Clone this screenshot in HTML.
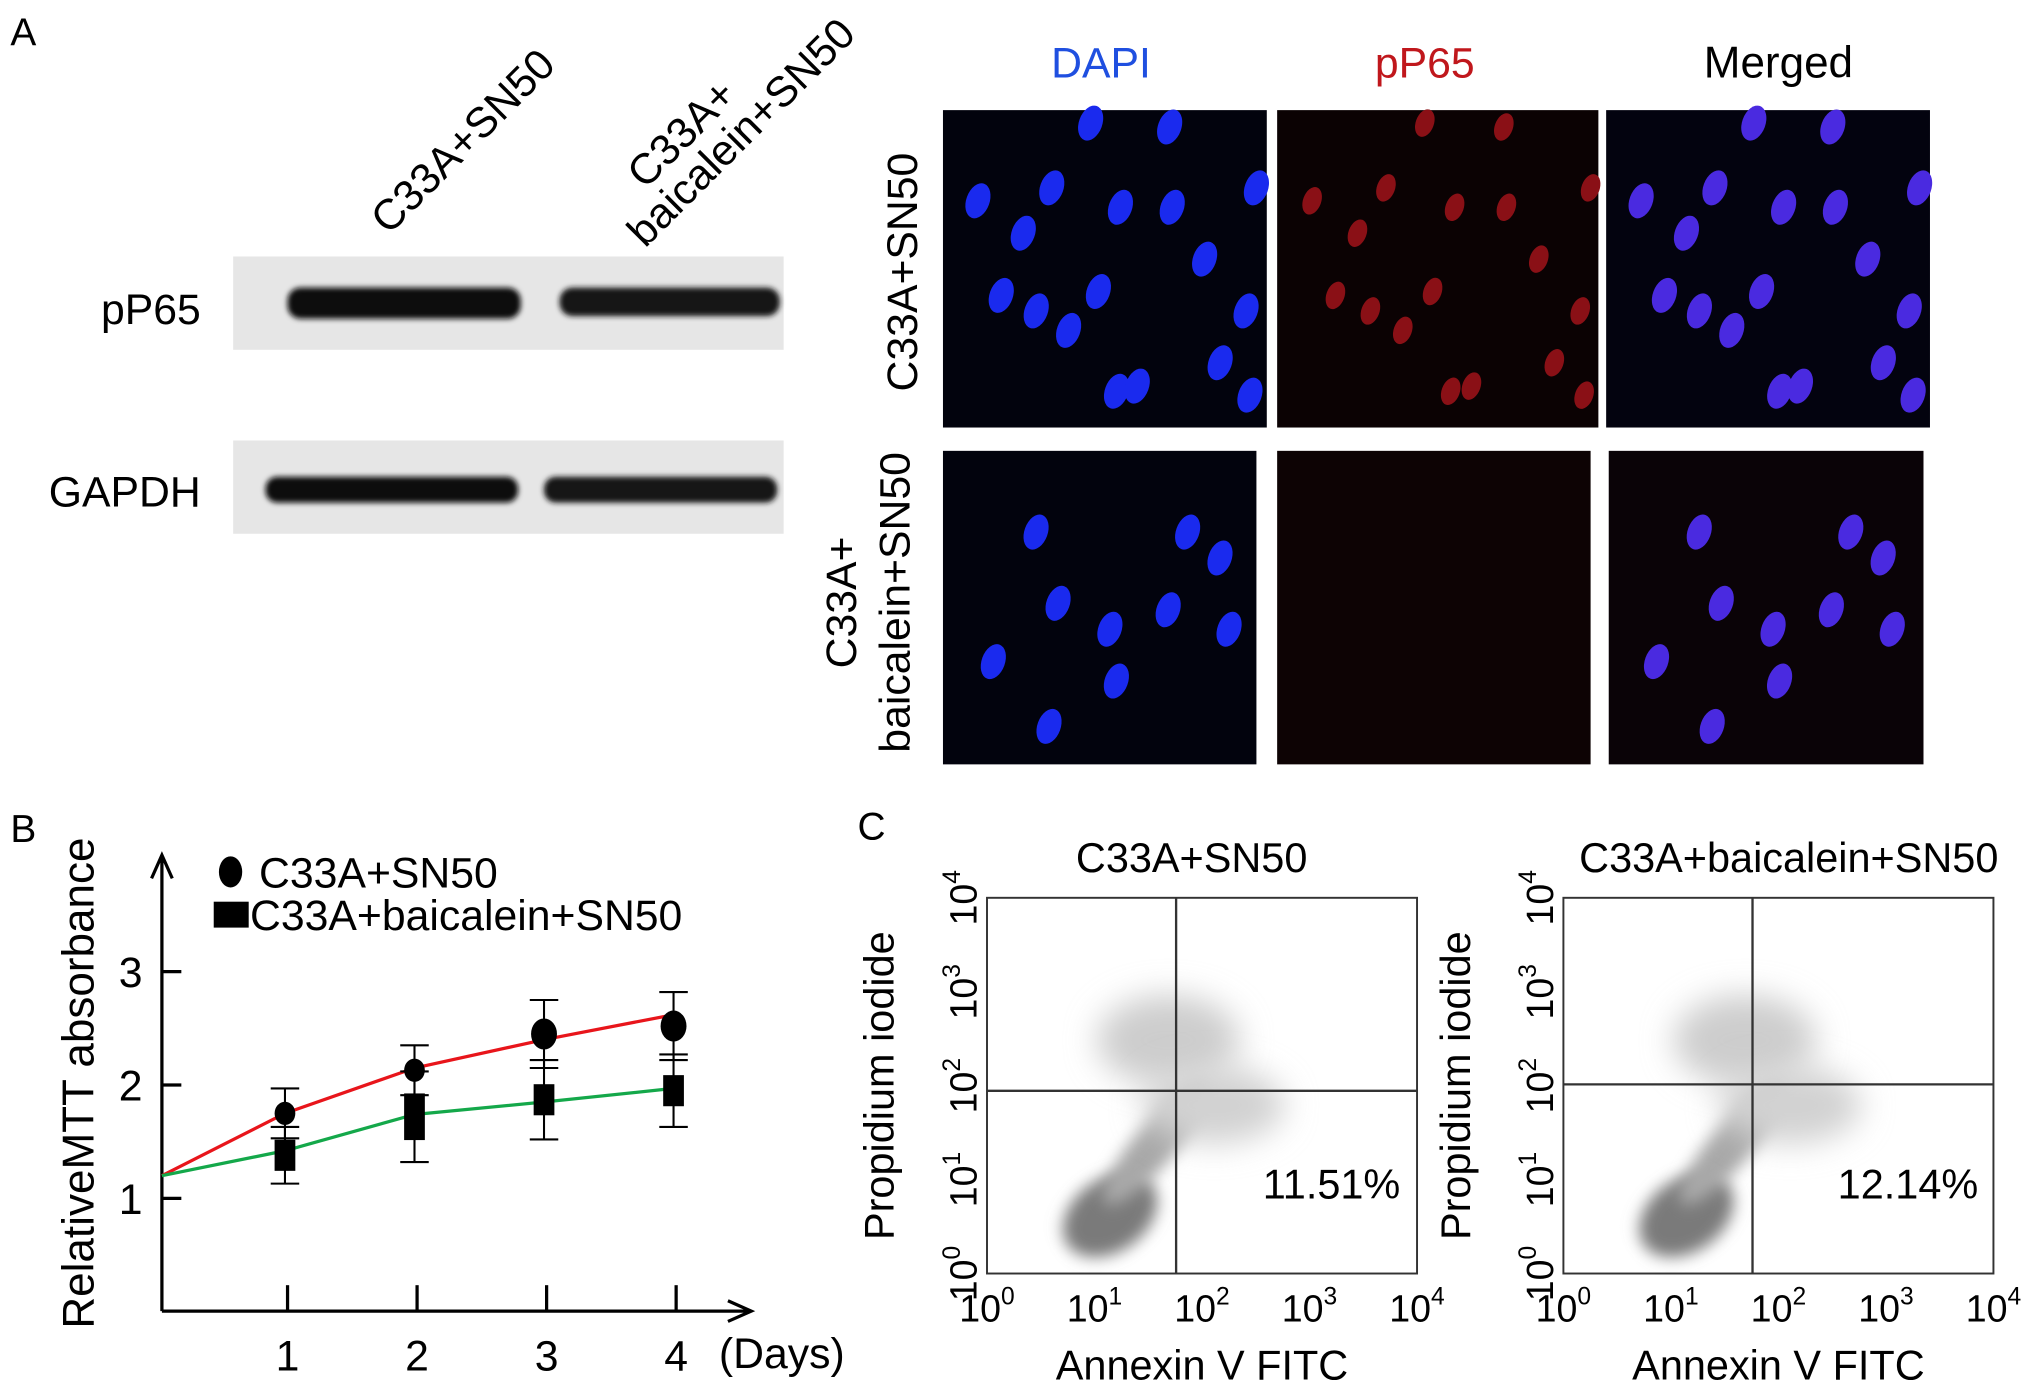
<!DOCTYPE html>
<html><head><meta charset="utf-8"><style>
html,body{margin:0;padding:0;background:#fff;}
svg{display:block;font-family:"Liberation Sans",sans-serif;}
</style></head><body>
<svg width="2031" height="1394" viewBox="0 0 1568 1076" preserveAspectRatio="none">
<defs>
<filter id="blur2" x="-50%" y="-50%" width="200%" height="200%"><feGaussianBlur stdDeviation="2"/></filter>
<filter id="blur6" x="-100%" y="-100%" width="300%" height="300%"><feGaussianBlur stdDeviation="6"/></filter>
<filter id="blur12" x="-100%" y="-100%" width="300%" height="300%"><feGaussianBlur stdDeviation="12"/></filter>
</defs>
<!-- Panel A -->
<text x="8" y="35" font-size="30">A</text>
<text x="300" y="182" font-size="33" transform="rotate(-45 300 182)">C33A+SN50</text>
<text transform="rotate(-45 498 192)" font-size="33"><tspan x="530" y="160">C33A+</tspan><tspan x="498" y="192">baicalein+SN50</tspan></text>
<g>
<rect x="180" y="198" width="425" height="72" fill="#e6e6e6"/>
<rect x="222" y="222" width="180" height="24" rx="10" fill="#111" filter="url(#blur2)"/>
<rect x="432" y="222" width="170" height="22" rx="10" fill="#151515" filter="url(#blur2)"/>
</g>
<g>
<rect x="180" y="340" width="425" height="72" fill="#e6e6e6"/>
<rect x="205" y="368" width="195" height="20" rx="9" fill="#111" filter="url(#blur2)"/>
<rect x="420" y="368" width="180" height="20" rx="9" fill="#151515" filter="url(#blur2)"/>
</g>
<text x="155" y="250" font-size="33" text-anchor="end">pP65</text>
<text x="155" y="391" font-size="33" text-anchor="end">GAPDH</text>
<text x="850" y="60" font-size="33" text-anchor="middle" fill="#1f4fe0">DAPI</text>
<text x="1100" y="60" font-size="33" text-anchor="middle" fill="#c0171c">pP65</text>
<text x="1373" y="60" font-size="34" text-anchor="middle">Merged</text>
<text x="0" y="0" font-size="33" text-anchor="middle" transform="translate(708 210) rotate(-90)">C33A+SN50</text>
<text font-size="33" text-anchor="middle" transform="translate(0 465) rotate(-90)"><tspan x="0" y="661">C33A+</tspan><tspan x="0" y="702">baicalein+SN50</tspan></text>
<g>
<rect x="728" y="85" width="250" height="245" fill="#02030d"/>
<rect x="986" y="85" width="248" height="245" fill="#0b0203"/>
<rect x="1240" y="85" width="250" height="245" fill="#03030f"/>
<rect x="728" y="348" width="242" height="242" fill="#02030d"/>
<rect x="986" y="348" width="242" height="242" fill="#0d0304"/>
<rect x="1242" y="348" width="243" height="242" fill="#0a0307"/>
</g>
<g id="nuc1" fill="#1a2aee"></g>
<!-- Panel B -->
<text x="8" y="650" font-size="30">B</text>
<g id="chartB"></g>
<!-- Panel C -->
<text x="662" y="648" font-size="30">C</text>
<g id="flow"></g>
</svg>
<script>
const NS='http://www.w3.org/2000/svg';
function mk(tag,attrs,parent,txt){const e=document.createElementNS(NS,tag);for(const k in attrs)e.setAttribute(k,attrs[k]);if(txt!==undefined)e.textContent=txt;parent.appendChild(e);return e;}

const nucs=[[755,155],[790,180],[842,95],[903,98],[812,145],[865,160],[905,160],[970,145],[773,228],[800,240],[825,255],[848,225],[930,200],[962,240],[942,280],[862,302],[878,298],[965,305],[798,410],[915,410],[940,430],[815,465],[855,485],[900,470],[947,485],[860,525],[765,510],[808,560]];
const ng=document.getElementById('nuc1');
nucs.forEach(([x,y])=>{
 [[0,'#1a2aee'],[1240-728,'#4a2ae0']].forEach(([dx,c])=>{const e=mk('ellipse',{cx:x+dx+(y>340?2:0),cy:y,rx:9,ry:14,fill:c,transform:`rotate(20 ${x+dx} ${y})`},ng);});
 if(y<335){const e=mk('ellipse',{cx:x+258,cy:y,rx:7,ry:11,fill:'#8a1016',transform:`rotate(20 ${x+258} ${y})`},ng);}
});

// Chart B data
const days=[1,2,3,4];
const startValue=1.2;
const sn50=[1.75,2.13,2.45,2.52];
const sn50Err=[0.22,0.22,0.3,0.3];
const sn50Fit=[1.75,2.15,2.4,2.62];
const baica=[1.38,1.72,1.87,1.95];
const baicaErr=[0.25,0.4,0.35,0.32];
const baicaFit=[1.42,1.74,1.85,1.97];
const yTicks=[1,2,3];
const X=d=>122+100*d - (d>0?2:0);
const Y=v=>925-(v-1)*87.5;
const g=document.getElementById('chartB');
let e;
e=mk('path',{d:'M125 1012 V662 M117 678 L125 660 L133 678',stroke:'#000','stroke-width':2.5,fill:'none'},g);
e=mk('path',{d:'M125 1012 H578 M562 1004 L580 1012 L562 1020',stroke:'#000','stroke-width':2.5,fill:'none'},g);
yTicks.forEach(t=>{e=mk('line',{x1:125,x2:140,y1:Y(t),y2:Y(t),stroke:'#000','stroke-width':2.5},g);
 e=mk('text',{x:110,y:Y(t)+12,'font-size':33,'text-anchor':'end'},g,String(t));});
days.forEach(d=>{const x=122+100*d;e=mk('line',{x1:x,x2:x,y1:992,y2:1012,stroke:'#000','stroke-width':2.5},g);
 e=mk('text',{x:x,y:1058,'font-size':33,'text-anchor':'middle'},g,String(d));});
e=mk('text',{x:555,y:1056,'font-size':33},g,'(Days)');
e=mk('text',{x:0,y:0,'font-size':34,'text-anchor':'middle',transform:'translate(72 836) rotate(-90)'},g,'RelativeMTT absorbance');
function line(fit,color,name){let d=`M125 ${Y(startValue)}`;fit.forEach((v,i)=>d+=` L${X(days[i])} ${Y(v)}`);e=mk('path',{d,stroke:color,'stroke-width':2.5,fill:'none'},g);}
line(sn50Fit,'#e8151b','sn50-line');line(baicaFit,'#14a84a','baicalein-line');
function errs(vals,er,name){vals.forEach((v,i)=>{const x=X(days[i]);e=mk('path',{d:`M${x} ${Y(v+er[i])} V${Y(v-er[i])} M${x-11} ${Y(v+er[i])} H${x+11} M${x-11} ${Y(v-er[i])} H${x+11}`,stroke:'#000','stroke-width':1.6,fill:'none'},g);});}
errs(sn50,sn50Err,'sn50-error-bar');errs(baica,baicaErr,'baicalein-error-bar');
sn50.forEach((v,i)=>{e=mk('ellipse',{cx:X(days[i]),cy:Y(v),rx:i<2?8:10,ry:i<2?9:12,fill:'#000'},g);});
baica.forEach((v,i)=>{e=mk('rect',{x:X(days[i])-8,y:Y(v)-(i==1?18:12),width:16,height:i==1?36:24,fill:'#000'},g);});
e=mk('ellipse',{cx:178,cy:673,rx:9,ry:12,fill:'#000'},g);
e=mk('text',{x:200,y:685,'font-size':33},g,'C33A+SN50');
e=mk('rect',{x:165,y:696,width:27,height:20,fill:'#000'},g);
e=mk('text',{x:193,y:718,'font-size':33},g,'C33A+baicalein+SN50');

// Panel C
const flowTitles=['C33A+SN50','C33A+baicalein+SN50'];
const flowPercents=['11.51%','12.14%'];
const logTicks=['0','1','2','3','4'];
const fg=document.getElementById('flow');
[[762,908,842],[1207,1353,837]].forEach(([x0,vx,hy],k)=>{
 const w=332,y0=693,h=290;
 const cl=mk('g',{},fg);
 mk('ellipse',{cx:x0+95,cy:y0+245,rx:40,ry:28,fill:'#7a7a7a',filter:'url(#blur6)',transform:`rotate(-35 ${x0+95} ${y0+245})`},cl);
 mk('ellipse',{cx:x0+130,cy:y0+190,rx:60,ry:16,fill:'#a8a8a8',filter:'url(#blur6)',transform:`rotate(-50 ${x0+130} ${y0+190})`},cl);
 mk('ellipse',{cx:x0+140,cy:y0+110,rx:55,ry:35,fill:'#cdcdcd',filter:'url(#blur12)'},cl);
 mk('ellipse',{cx:x0+175,cy:y0+160,rx:55,ry:30,fill:'#d2d2d2',filter:'url(#blur12)'},cl);
 e=mk('rect',{x:x0,y:y0,width:w,height:h,fill:'none',stroke:'#333','stroke-width':1.5},fg);
 e=mk('path',{d:`M${vx} ${y0} V${y0+h} M${x0} ${hy} H${x0+w}`,stroke:'#333','stroke-width':1.8},fg);
 e=mk('text',{x:x0+w/2+(k?8:-8),y:673,'font-size':32,'text-anchor':'middle'},fg,flowTitles[k]);
 e=mk('text',{x:x0+w/2+100,y:925,'font-size':32,'text-anchor':'middle'},fg,flowPercents[k]);
 logTicks.forEach((t,i)=>{
  const tx=x0+i*w/4, ty=y0+h-i*h/4;
  e=mk('text',{x:tx,y:1020,'font-size':29,'text-anchor':'middle'},fg);e.innerHTML=`10<tspan dy="-13" font-size="19">${t}</tspan>`;
  e=mk('text',{x:0,y:0,'font-size':29,'text-anchor':'middle',transform:`translate(${x0-8} ${ty}) rotate(-90)`},fg);e.innerHTML=`10<tspan dy="-13" font-size="19">${t}</tspan>`;
 });
 e=mk('text',{x:x0+w/2,y:1065,'font-size':32,'text-anchor':'middle'},fg,'Annexin V FITC');
 e=mk('text',{x:0,y:0,'font-size':32,'text-anchor':'middle',transform:`translate(${x0-72} ${y0+145}) rotate(-90)`},fg,'Propidium iodide');
});
</script>
</body></html>
